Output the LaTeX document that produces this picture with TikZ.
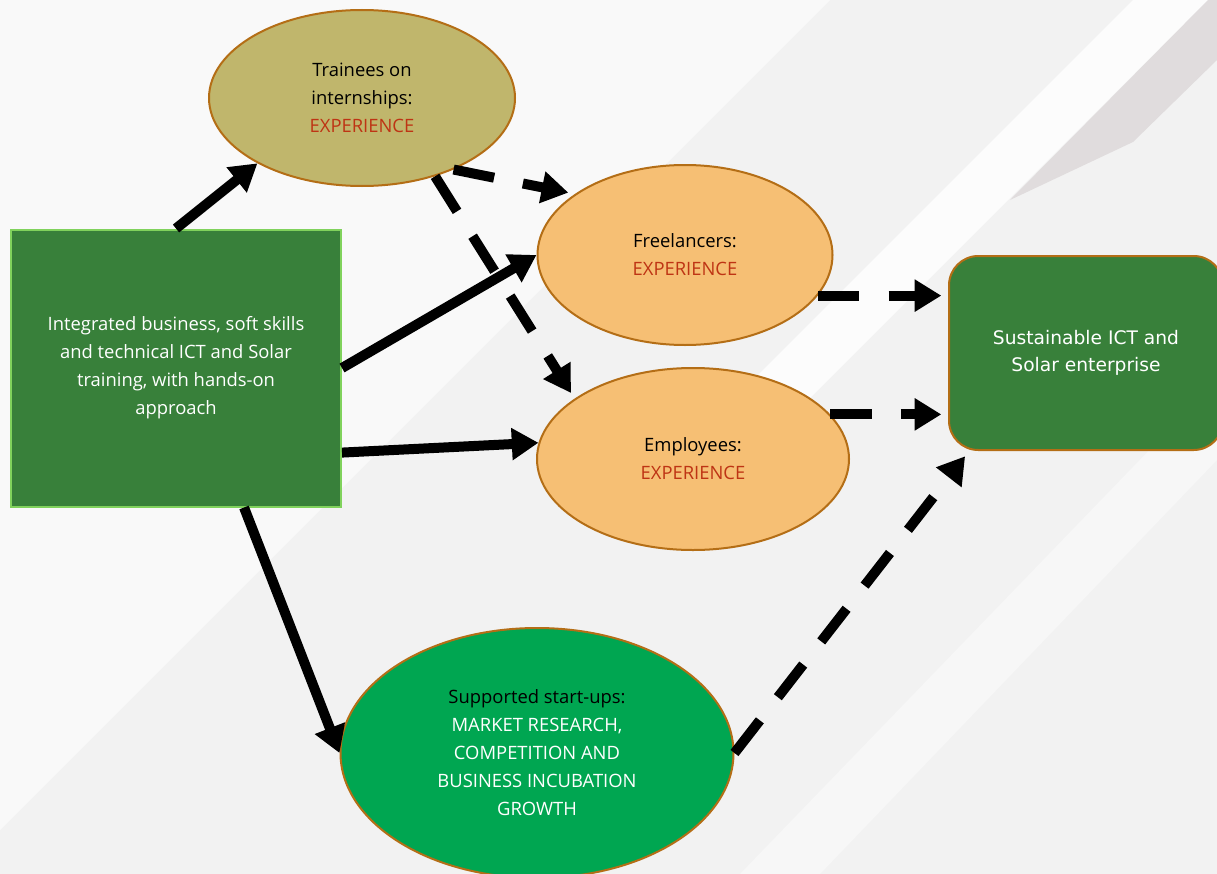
\documentclass[tikz,border=0pt]{standalone}
\usepackage{fontspec}
\setmainfont{Open Sans}
\newfontfamily\widefont{DejaVu Sans}
\usetikzlibrary{arrows.meta,shapes.geometric}

\definecolor{bggrey}{RGB}{242,242,242}
\definecolor{wedgegrey}{RGB}{224,220,221}
\definecolor{boxgreen}{RGB}{56,128,58}
\definecolor{rimgreen}{RGB}{128,210,92}
\definecolor{khaki}{RGB}{192,182,108}
\definecolor{peach}{RGB}{246,191,116}
\definecolor{startgreen}{RGB}{0,166,81}
\definecolor{rimbrown}{RGB}{180,110,22}
\definecolor{expred}{RGB}{190,52,20}

\begin{document}
\begin{tikzpicture}
  [x=0.75pt,y=-0.75pt,
   font=\fontsize{13.8}{21}\selectfont,
   blob/.style={ellipse,draw=rimbrown,line width=1.5pt,inner sep=0pt,align=center},
   solid arrow/.style={line width=7.5pt,-{Triangle[length=20pt,width=23pt]}},
   dash arrow/.style={line width=7.5pt,dash pattern=on 31pt off 22pt,
     shorten >=5pt,-{Triangle[length=20pt,width=23pt]}}]
  \useasboundingbox (0,0) rectangle (1217,874);

  % background
  \fill[bggrey] (0,0) rectangle (1217,874);
  \fill[white,opacity=0.6] (0,0) -- (830,0) -- (0,830) -- cycle;
  \fill[white,opacity=0.8] (1133,0) -- (1208,0) -- (700,508) -- (625,508) -- cycle;
  \fill[white,opacity=0.4] (1217,380) -- (1217,460) -- (820,874) -- (740,874) -- cycle;
  \fill[wedgegrey] (1010,200) -- (1133,142) -- (1217,60) -- (1217,0) -- (1208,0) -- cycle;

  \node (train)[draw=rimgreen,fill=boxgreen,line width=1.5pt,text=white,align=center,
    minimum width=247.5pt,minimum height=207.75pt,inner sep=0pt] at (176,368)
    {Integrated business, soft skills\\and technical ICT and Solar\\training, with hands-on\\approach};
  \node (trainees)[blob,fill=khaki,minimum width=229.5pt,minimum height=132pt] at (362,98)
    {Trainees on\\internships:\\\textcolor{expred}{EXPERIENCE}};
  \node (freelancers)[blob,fill=peach,minimum width=221.25pt,minimum height=135pt] at (685,255)
    {Freelancers:\\\textcolor{expred}{EXPERIENCE}};
  \node (employees)[blob,fill=peach,minimum width=234pt,minimum height=136.5pt] at (693,459)
    {Employees:\\\textcolor{expred}{EXPERIENCE}};
  \node (startups)[blob,fill=startgreen,minimum width=294.75pt,minimum height=187.5pt] at (537,753)
    {Supported start-ups:\\\color{white}MARKET RESEARCH,\\\color{white}COMPETITION AND\\\color{white}BUSINESS INCUBATION\\\color{white}GROWTH};
  \node (sustainable)[draw=rimbrown,fill=boxgreen,line width=1.5pt,rounded corners=22pt,
    text=white,align=center,minimum width=205.5pt,minimum height=145.5pt,inner sep=0pt,
    font=\widefont\fontsize{14}{20}\selectfont] at (1086,353)
    {Sustainable ICT and\\Solar enterprise};

  \foreach \from/\to in {train.north/trainees.212, train.east/freelancers.west,
    train.-27/employees.174, train.-64/startups.west}
    \draw[solid arrow] (\from) -- (\to);

  \foreach \from/\to in {trainees.-38/freelancers.151, trainees.-47/employees.153,
    freelancers.-17/{freelancers.-17 -| sustainable.west},
    employees.18/{employees.18 -| sustainable.west}, startups.east/sustainable.220}
    \draw[dash arrow] (\from) -- (\to);

\end{tikzpicture}
\end{document}
